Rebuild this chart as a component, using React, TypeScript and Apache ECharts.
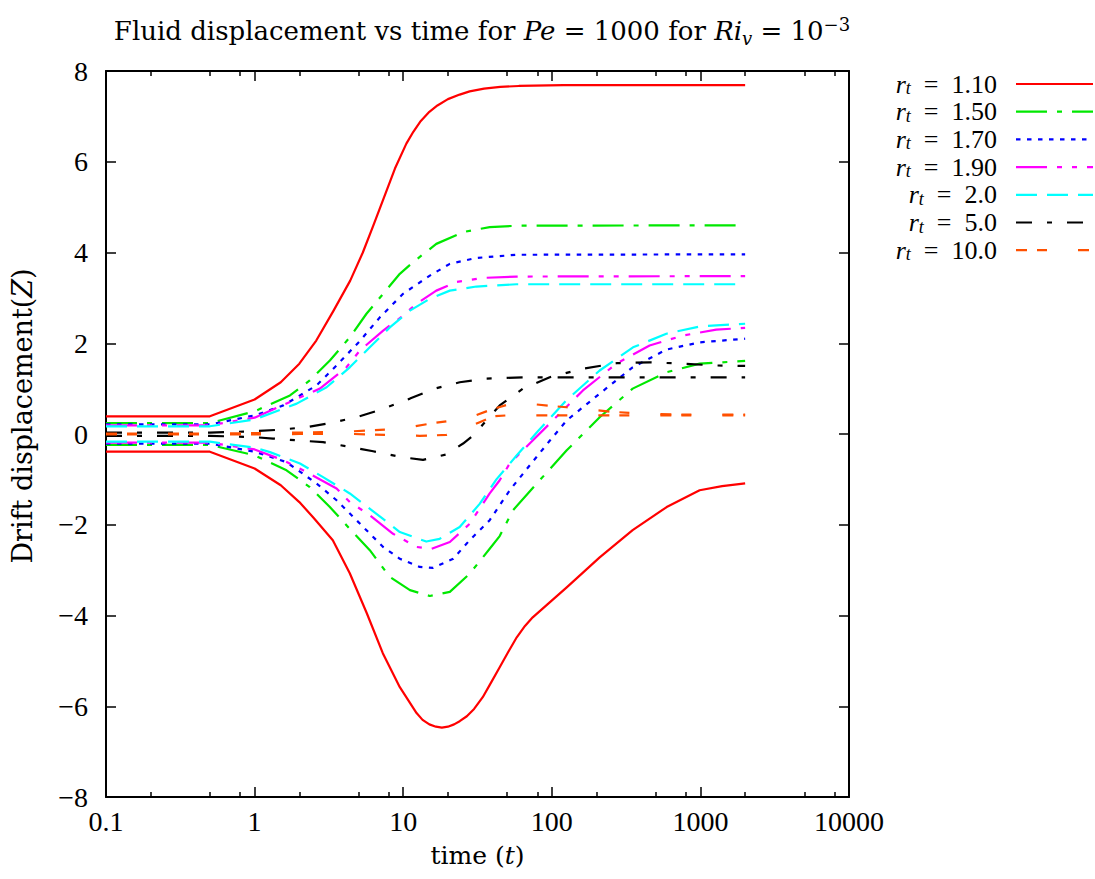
import React, { useEffect, useRef } from 'react';
import * as echarts from 'echarts';

const FONT = '"Liberation Serif", "DejaVu Serif", "Times New Roman", serif';
const WFONT = '"DejaVu Serif", "Liberation Serif", serif';

// Axis ticks
const X_TICKS = [0.1, 1, 10, 100, 1000, 10000];
const X_TICK_LABELS = ['0.1', '1', '10', '100', '1000', '10000'];
const X_MINOR_TICKS = [0.2, 0.5, 0.8, 2, 5, 8, 20, 50, 80, 200, 500, 800, 2000, 5000, 8000];
const Y_TICKS = [-8, -6, -4, -2, 0, 2, 4, 6, 8];

// Legend labels (r_t values)
const RT_LABELS = ['1.10', '1.50', '1.70', '1.90', '2.0', '5.0', '10.0'];

// Data: [time, displacement] pairs
const R110_UP = [[0.1, 0.39], [0.5, 0.39], [1, 0.76], [1.5, 1.14], [2, 1.55], [2.6, 2.06], [3.4, 2.72], [4.4, 3.38], [5.35, 4.0], [6.3, 4.6], [7.3, 5.15], [8.8, 5.85], [10.5, 6.4], [11.7, 6.66], [13, 6.88], [15, 7.1], [17, 7.24], [20, 7.38], [24, 7.48], [28, 7.55], [35, 7.61], [45, 7.65], [60, 7.67], [120, 7.69], [2000, 7.69]];
const R110_LO = [[0.1, -0.39], [0.5, -0.39], [1, -0.76], [1.5, -1.13], [2, -1.5], [2.5, -1.85], [3.36, -2.34], [4.37, -3.07], [5.69, -3.95], [7.29, -4.83], [9.49, -5.58], [12.3, -6.15], [13.5, -6.3], [15, -6.4], [16.6, -6.45], [18.2, -6.47], [20, -6.45], [22, -6.4], [24, -6.33], [26.8, -6.22], [30, -6.06], [34.3, -5.8], [39, -5.48], [44.6, -5.14], [51, -4.8], [58.1, -4.48], [66, -4.23], [74.4, -4.04], [96.8, -3.71], [126, -3.38], [210, -2.72], [350, -2.12], [593, -1.61], [988, -1.24], [1400, -1.15], [2000, -1.09]];
const R150_UP = [[0.1, 0.24], [0.5, 0.24], [1, 0.5], [1.73, 0.85], [2.35, 1.18], [3.21, 1.62], [4.37, 2.13], [5.66, 2.65], [7.33, 3.09], [9.49, 3.53], [11.7, 3.79], [16.7, 4.19], [25.3, 4.45], [38.2, 4.56], [57.8, 4.59], [2000, 4.6]];
const R150_LO = [[0.1, -0.24], [0.5, -0.24], [1, -0.47], [1.64, -0.8], [2.35, -1.17], [3.21, -1.61], [4.37, -2.09], [5.96, -2.56], [8.13, -3.15], [11.1, -3.44], [15.1, -3.57], [20.6, -3.48], [28, -3.08], [38.2, -2.53], [44.6, -2.25], [54.8, -1.68], [78.8, -1.1], [126, -0.36], [210, 0.37], [350, 1.0], [590, 1.36], [988, 1.55], [2000, 1.61]];
const R170_UP = [[0.1, 0.21], [0.5, 0.21], [1, 0.41], [1.56, 0.63], [2.61, 1.07], [3.56, 1.51], [5.11, 2.05], [6.96, 2.57], [9.98, 3.09], [15.1, 3.49], [20.6, 3.75], [31.1, 3.88], [57.8, 3.95], [2000, 3.96]];
const R170_LO = [[0.1, -0.21], [0.5, -0.21], [1, -0.39], [1.64, -0.62], [2.61, -1.09], [3.56, -1.46], [4.85, -1.9], [7.33, -2.49], [9.49, -2.75], [12.9, -2.93], [15.9, -2.95], [21.7, -2.75], [28, -2.34], [38.2, -1.9], [52.1, -1.24], [74.8, -0.6], [96.8, -0.15], [126, 0.3], [210, 0.89], [350, 1.47], [590, 1.86], [988, 2.02], [2000, 2.1]];
const R190_UP = [[0.1, 0.19], [0.5, 0.19], [1, 0.36], [1.82, 0.74], [2.75, 1.0], [4.15, 1.47], [5.11, 1.84], [7.33, 2.28], [9.73, 2.58], [12.3, 2.87], [16.7, 3.16], [22.8, 3.35], [34.5, 3.44], [57.8, 3.47], [2000, 3.48]];
const R190_LO = [[0.1, -0.19], [0.5, -0.19], [1, -0.34], [1.56, -0.58], [2.12, -0.8], [3.56, -1.2], [4.37, -1.5], [5.96, -1.79], [8.55, -2.2], [12.3, -2.49], [15.5, -2.53], [20.6, -2.38], [28, -1.98], [38.2, -1.31], [44.6, -1.02], [52.1, -0.65], [71, -0.21], [96.8, 0.23], [162, 0.96], [272, 1.55], [455, 1.95], [762, 2.17], [1279, 2.3], [2000, 2.34]];
const R20_UP = [[0.1, 0.17], [0.5, 0.17], [1, 0.32], [1.92, 0.67], [3.05, 1.03], [4.37, 1.47], [5.96, 1.91], [8.13, 2.35], [11.1, 2.72], [15.1, 2.98], [20.6, 3.16], [31.1, 3.25], [57.8, 3.3], [2000, 3.3]];
const R20_LO = [[0.1, -0.17], [0.5, -0.17], [1, -0.3], [1.27, -0.4], [2.02, -0.65], [2.89, -0.95], [4.37, -1.31], [6.61, -1.76], [9.49, -2.16], [14.3, -2.37], [17.6, -2.31], [24, -2.05], [32.7, -1.54], [42.4, -1.0], [57.8, -0.48], [80, 0.05], [125, 0.74], [210, 1.4], [352, 1.91], [590, 2.21], [988, 2.37], [2000, 2.43]];
const R50_A = [[0.1, 0.03], [0.5, 0.03], [0.98, 0.06], [1.41, 0.09], [2.24, 0.15], [3.21, 0.24], [4.85, 0.37], [6.96, 0.53], [11.1, 0.78], [15.9, 0.99], [24, 1.14], [36.3, 1.22], [64, 1.25], [2000, 1.25]];
const R50_B = [[0.1, -0.04], [0.5, -0.04], [1, -0.07], [1.33, -0.1], [1.92, -0.14], [2.89, -0.18], [4.15, -0.27], [6.28, -0.38], [9.73, -0.51], [13.6, -0.57], [19.5, -0.45], [25.3, -0.21], [30, -0.02], [36.3, 0.3], [44.6, 0.63], [64, 1.0], [96.8, 1.25], [162, 1.44], [272, 1.56], [455, 1.58], [762, 1.55], [1279, 1.51], [2000, 1.5]];
const R100_A = [[0.1, 0.01], [0.5, 0.01], [1, 0.02], [2, 0.03], [4.6, 0.06], [7.7, 0.1], [12, 0.17], [15.9, 0.24], [21.7, 0.3], [30, 0.4], [40, 0.55], [52, 0.66], [65, 0.68], [97, 0.62], [126, 0.59], [180, 0.54], [250, 0.49], [400, 0.45], [700, 0.43], [2000, 0.43]];
const R100_B = [[0.1, -0.01], [0.5, -0.01], [1, -0.01], [2, 0.0], [4.6, 0.0], [7.7, -0.02], [12.9, -0.04], [19.5, -0.02], [26, 0.12], [32.7, 0.26], [40.3, 0.39], [50, 0.41], [2000, 0.41]];

const UPPER = [R110_UP, R150_UP, R170_UP, R190_UP, R20_UP, R50_A, R100_A];
const LOWER = [R110_LO, R150_LO, R170_LO, R190_LO, R20_LO, R50_B, R100_B];

const STYLES = [
  { color: '#ff0000', dash: [] as number[] },
  { color: '#00e800', dash: [31, 10, 5, 10] },
  { color: '#0000ff', dash: [4.5, 6.5] },
  { color: '#ff00ff', dash: [31, 10, 5, 10, 5, 10] },
  { color: '#00ffff', dash: [21, 10] },
  { color: '#000000', dash: [16, 15, 5, 15] },
  { color: '#ff5000', dash: [11, 10, 10, 31] },
];

const FS = 28;

function makeRich(family: string, size: number, lh: number) {
  const sub = Math.round(size * 0.7);
  return {
    i: { fontStyle: 'italic', fontSize: size, fontFamily: family, color: '#000', lineHeight: lh },
    n: { fontSize: size, fontFamily: family, color: '#000', lineHeight: lh },
    sub: { fontStyle: 'italic', fontSize: sub, fontFamily: family, color: '#000', lineHeight: sub, verticalAlign: 'bottom' },
    sup: { fontSize: sub, fontFamily: family, color: '#000', lineHeight: sub, verticalAlign: 'top' },
  };
}

const titleRich = makeRich(WFONT, 26, 32);
const nameRich = makeRich(WFONT, 25, 30);
const yNameRich = makeRich(WFONT, 27, 32);
const legendRich = makeRich(FONT, 26, 26);

function fmtX(v: number) {
  const k = Math.round(Math.log10(v)) + 1;
  return X_TICK_LABELS[k] ?? String(v);
}
function fmtY(v: number) {
  return v < 0 ? '\u2212' + Math.abs(v) : String(v);
}

export default function App() {
  const ref = useRef<HTMLDivElement>(null);
  useEffect(() => {
    if (!ref.current) return;
    const chart = echarts.init(ref.current, null, { renderer: 'svg' });
    const lineColor = '#000';
    const axisLine = { show: true, onZero: false, lineStyle: { color: lineColor, width: 2 } };
    const noLine = { show: false, onZero: false };
    const logBase = { type: 'log', logBase: 10, min: 0.1, max: 10000, gridIndex: 0 };
    const tickStyle = { color: lineColor, width: 1.5 };

    const series: any[] = [];
    for (let i = 0; i < 7; i++) {
      const st = STYLES[i];
      [UPPER[i], LOWER[i]].forEach((d) => {
        series.push({
          name: 'r_t = ' + RT_LABELS[i],
          type: 'line',
          data: d,
          xAxisIndex: 0,
          yAxisIndex: 0,
          symbol: 'none',
          showSymbol: false,
          smooth: false,
          clip: true,
          z: 2 + i,
          lineStyle: { color: st.color, width: 2.2, type: st.dash.length ? st.dash : 'solid', join: 'round' },
          emphasis: { disabled: true },
        });
      });
    }

    const graphics: any[] = [];
    const legendX = 997;
    const legendY0 = 84;
    const legendStep = 27.7;
    for (let i = 0; i < 7; i++) {
      const y = legendY0 + i * legendStep;
      graphics.push({
        type: 'text',
        x: legendX,
        y,
        style: {
          text: `{i|r}{sub|t}{n|  =  ${RT_LABELS[i]}}`,
          rich: legendRich,
          fontSize: 26,
          fontFamily: FONT,
          align: 'right',
          verticalAlign: 'middle',
          textAlign: 'right',
          textVerticalAlign: 'middle',
          fill: '#000',
        },
      });
      graphics.push({
        type: 'line',
        shape: { x1: 1016, y1: y, x2: 1093, y2: y },
        style: {
          stroke: STYLES[i].color,
          lineWidth: 2.2,
          lineDash: STYLES[i].dash.length ? STYLES[i].dash : null,
        },
      });
    }
    // y-axis title
    graphics.push({
      type: 'text',
      x: 22,
      y: 416,
      rotation: Math.PI / 2,
      style: {
        text: '{n|Drift displacement(}{i|Z}{n|)}',
        rich: yNameRich,
        fontSize: 27,
        fontFamily: WFONT,
        align: 'center',
        verticalAlign: 'middle',
        textAlign: 'center',
        textVerticalAlign: 'middle',
        fill: '#000',
      },
    });

    chart.setOption({
      animation: false,
      backgroundColor: '#ffffff',
      title: {
        text: '{n|Fluid displacement vs time for }{i|Pe}{n| = 1000 for }{i|Ri}{sub|v}{n| = 10}{sup|\u22123}',
        left: 477,
        top: 10,
        textAlign: 'center',
        textStyle: { fontSize: 26, fontFamily: WFONT, fontWeight: 'normal', color: '#000', rich: titleRich },
      },
      grid: { left: 106, right: 246, top: 71, bottom: 82, containLabel: false, outerBoundsMode: 'none' },
      xAxis: [
        {
          ...logBase,
          position: 'bottom',
          axisLine,
          splitLine: { show: false },
          axisTick: { show: true, inside: true, length: 10, lineStyle: tickStyle, customValues: X_TICKS },
          axisLabel: { show: true, customValues: X_TICKS, formatter: fmtX, fontSize: FS, fontFamily: FONT, color: '#000', margin: 10 },
          name: '{n|time (}{i|t}{n|)}',
          nameLocation: 'middle',
          nameGap: 43,
          nameTextStyle: { fontSize: 25, fontFamily: WFONT, color: '#000', rich: nameRich },
        },
        {
          ...logBase,
          position: 'bottom',
          axisLine: noLine,
          splitLine: { show: false },
          axisTick: { show: true, inside: true, length: 5, lineStyle: tickStyle, customValues: X_MINOR_TICKS },
          axisLabel: { show: false },
        },
        {
          ...logBase,
          position: 'top',
          axisLine,
          splitLine: { show: false },
          axisTick: { show: true, inside: true, length: 10, lineStyle: tickStyle, customValues: X_TICKS },
          axisLabel: { show: false },
        },
        {
          ...logBase,
          position: 'top',
          axisLine: noLine,
          splitLine: { show: false },
          axisTick: { show: true, inside: true, length: 5, lineStyle: tickStyle, customValues: X_MINOR_TICKS },
          axisLabel: { show: false },
        },
      ],
      yAxis: [
        {
          type: 'value',
          min: -8,
          max: 8,
          interval: 2,
          position: 'left',
          axisLine,
          splitLine: { show: false },
          axisTick: { show: true, inside: true, length: 10, lineStyle: tickStyle, customValues: Y_TICKS },
          axisLabel: { show: true, customValues: Y_TICKS, formatter: fmtY, fontSize: FS, fontFamily: FONT, color: '#000', margin: 18 },
        },
        {
          type: 'value',
          min: -8,
          max: 8,
          interval: 2,
          position: 'right',
          axisLine,
          splitLine: { show: false },
          axisTick: { show: true, inside: true, length: 10, lineStyle: tickStyle },
          axisLabel: { show: false },
        },
      ],
      series,
      graphic: graphics,
    });
    return () => chart.dispose();
  }, []);
  return <div ref={ref} style={{ position: 'absolute', left: 0, top: 0, width: 1095, height: 879 }} />;
}
